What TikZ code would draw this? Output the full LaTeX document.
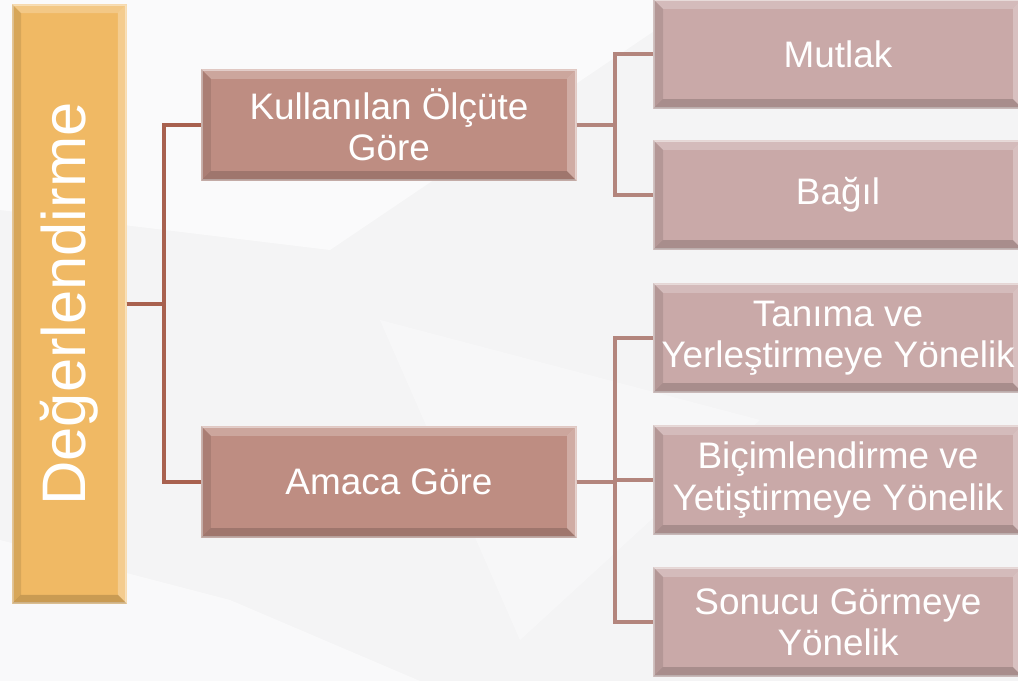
\documentclass[tikz,border=0pt]{standalone}
\usepackage{fontspec}
\setmainfont{Liberation Sans}
\usepackage{graphicx}
\usetikzlibrary{positioning}

\definecolor{bgGray}{HTML}{F4F4F5}
\definecolor{rootGold}{HTML}{F0B964}
\definecolor{midRose}{HTML}{BE8D82}
\definecolor{leafRose}{HTML}{C9A9A8}
\definecolor{linkDark}{HTML}{A8614F}
\definecolor{linkLight}{HTML}{B3857D}

\tikzset{
  box/.style={rectangle, inner sep=0pt, align=center, text=white,
    font=\fontsize{21}{23.5}\selectfont, line width=0.8pt},
  rootbox/.style={box, fill=rootGold, draw=rootGold!60!white,
    minimum width=2.26cm, minimum height=11.96cm,
    font=\fontsize{35}{38}\selectfont},
  midbox/.style={box, fill=midRose, draw=midRose!55!white,
    minimum width=7.48cm, minimum height=2.2cm},
  leafbox/.style={box, fill=leafRose, draw=leafRose!55!white,
    minimum width=7.36cm, minimum height=2.16cm},
  link/.style={line width=2.2pt, draw=linkDark},
  sublink/.style={line width=2.2pt, draw=linkLight}
}

% bevelled edges of a box
\newcommand\bevel[2]{%
  \fill[white,opacity=0.22] (#1.north west) -- (#1.north east)
    -- ([shift={(-#2,-#2)}]#1.north east) -- ([shift={(#2,-#2)}]#1.north west) -- cycle;
  \fill[white,opacity=0.28] (#1.north east) -- (#1.south east)
    -- ([shift={(-#2,#2)}]#1.south east) -- ([shift={(-#2,-#2)}]#1.north east) -- cycle;
  \fill[black,opacity=0.10] (#1.north west) -- (#1.south west)
    -- ([shift={(#2,#2)}]#1.south west) -- ([shift={(#2,-#2)}]#1.north west) -- cycle;
  \fill[black,opacity=0.16] (#1.south west) -- (#1.south east)
    -- ([shift={(-#2,#2)}]#1.south east) -- ([shift={(#2,#2)}]#1.south west) -- cycle;
}

\begin{document}
\begin{tikzpicture}[x=0.02cm,y=-0.02cm]
\clip (0,0) rectangle (1018,681);
% background
\fill[bgGray] (0,0) rectangle (1018,681);
\fill[white,opacity=0.6] (0,0) -- (700,0) -- (330,250) -- (0,210) -- cycle;
\fill[white,opacity=0.5] (0,681) -- (0,540) -- (230,600) -- (420,681) -- cycle;
\fill[white,opacity=0.35] (380,320) -- (760,420) -- (520,640) -- cycle;

% nodes
\node[rootbox] (root) at (69.5,304) {\rotatebox{90}{Değerlendirme}};
\node[midbox] (olcut) at (389,125) {Kullanılan Ölçüte\\Göre};
\node[midbox] (amac) at (389,482) {Amaca Göre};
\node[leafbox] (mutlak) at (838,54) {Mutlak};
\node[leafbox] (bagil) at (838,195) {Bağıl};
\node[leafbox] (tanima) at (838,338) {Tanıma ve\\Yerleştirmeye Yönelik};
\node[leafbox] (bicim) at (838,480) {Biçimlendirme ve\\Yetiştirmeye Yönelik};
\node[leafbox] (sonuc) at (838,622) {Sonucu Görmeye\\Yönelik};

\bevel{root}{5pt}
\bevel{olcut}{5.5pt}
\bevel{amac}{5.5pt}
\bevel{mutlak}{5.5pt}
\bevel{bagil}{5.5pt}
\bevel{tanima}{5.5pt}
\bevel{bicim}{5.5pt}
\bevel{sonuc}{5.5pt}

% connectors
\draw[link] (root.east) -- ++(37,0) |- (olcut.west);
\draw[link] (root.east) -- ++(37,0) |- (amac.west);
\draw[sublink] (olcut.east) -- ++(38,0) |- (mutlak.west);
\draw[sublink] (olcut.east) -- ++(38,0) |- (bagil.west);
\draw[sublink] (amac.east) -- ++(38,0) |- (tanima.west);
\draw[sublink] (amac.east) -- ++(38,0) |- (bicim.west);
\draw[sublink] (amac.east) -- ++(38,0) |- (sonuc.west);
\end{tikzpicture}
\end{document}
